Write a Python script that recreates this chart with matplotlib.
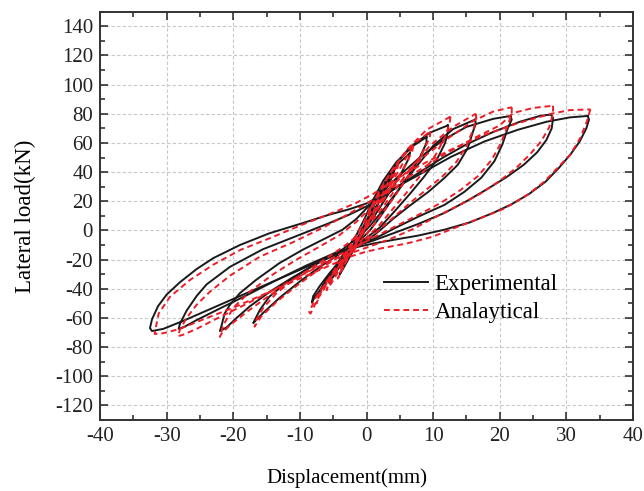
import matplotlib
matplotlib.use('Agg')
import matplotlib.pyplot as plt
from matplotlib.ticker import MultipleLocator

plt.rcParams['font.family'] = ['Liberation Serif', 'DejaVu Serif']
plt.rcParams['axes.unicode_minus'] = False

# experimental loops, small to large (displacement mm, load kN)
exp_x = [
    [4.2, 4.0, 3.0, 1.8, 0.5, -0.8, -2.0, -3.2, -4.0, -3.6, -2.5, -1.2, 0.0, 1.2, 2.3, 3.3, 4.2],
    [6.5, 6.3, 5.3, 4.0, 2.6, 1.2, -0.2, -1.6, -3.0, -4.3, -5.3, -5.6, -4.9, -3.8, -2.5, -1.2, 0.0, 1.3, 2.8, 4.6, 6.5],
    [9.0, 9.0, 8.0, 6.5, 5.0, 3.5, 2.0, 0.5, -1.0, -2.5, -4.0, -5.5, -6.5, -7.0, -6.6, -5.5, -4.3, -3.0, -1.5, -0.3, 1.0, 2.5, 4.5, 7.0, 9.0],
    [12.2, 12.3, 11.8, 10.5, 8.5, 6.5, 4.0, 2.0, 0.0, -1.5, -3.5, -5.5, -7.0, -8.0, -8.2, -7.8, -6.5, -5.0, -3.5, -2.0, -0.5, 0.5, 2.0, 4.0, 6.5, 9.5, 12.2],
    [16.3, 16.4, 16.0, 15.2, 13.7, 11.7, 9.3, 6.5, 4.0, 2.0, 0.5, -1.5, -4.0, -7.0, -10.0, -13.0, -15.5, -16.9, -17.0, -16.0, -14.6, -12.1, -9.1, -6.6, -3.6, -1.5, 0.5, 2.5, 4.5, 7.0, 10.0, 13.0, 16.3],
    [21.6, 21.8, 21.2, 20.4, 19.2, 17.2, 14.7, 11.7, 7.8, 4.0, 1.5, -1.0, -4.0, -7.5, -11.0, -14.5, -17.5, -19.5, -21.0, -22.0, -21.8, -21.3, -20.5, -19.0, -16.6, -13.1, -9.6, -6.6, -3.6, -1.5, 0.5, 2.5, 5.0, 8.0, 11.5, 15.0, 19.0, 21.6],
    [27.7, 28.0, 27.8, 27.0, 25.6, 23.6, 21.0, 18.0, 15.0, 11.7, 7.8, 4.0, 1.0, -1.5, -5.0, -9.0, -13.5, -18.0, -22.0, -25.5, -27.3, -28.2, -28.0, -27.0, -25.5, -24.0, -20.5, -15.6, -10.6, -5.6, -2.5, 0.0, 2.5, 5.0, 8.0, 11.5, 15.0, 19.0, 23.0, 26.0, 27.7],
    [33.2, 33.4, 33.0, 32.0, 30.6, 28.9, 26.9, 24.4, 21.8, 19.0, 15.5, 11.7, 7.8, 4.0, 1.0, -1.5, -5.0, -9.0, -14.0, -19.0, -23.5, -27.5, -30.5, -32.2, -32.5, -32.2, -31.3, -30.0, -28.0, -25.5, -23.0, -19.0, -14.6, -9.6, -5.6, -2.6, 0.0, 2.5, 5.0, 7.8, 12.7, 17.7, 22.7, 27.0, 30.5, 33.2],
]
exp_y = [
    [42.0, 38.0, 29.0, 19.0, 9.0, -1.0, -11.0, -21.0, -30.0, -27.0, -18.0, -8.0, 2.0, 13.0, 24.0, 34.0, 42.0],
    [53.0, 49.0, 40.0, 30.0, 20.0, 10.0, 1.0, -8.0, -17.0, -26.0, -33.0, -36.0, -31.0, -23.0, -14.0, -4.0, 7.0, 19.0, 32.0, 45.0, 53.0],
    [64.0, 60.0, 50.0, 39.0, 29.0, 19.0, 9.0, 0.0, -7.0, -14.0, -22.0, -31.0, -38.0, -42.0, -38.0, -30.0, -22.0, -13.0, -3.0, 8.0, 21.0, 34.0, 47.0, 58.0, 64.0],
    [72.0, 69.0, 60.0, 48.0, 36.0, 25.0, 12.0, 2.0, -5.0, -10.0, -19.0, -29.0, -38.0, -45.0, -49.5, -46.0, -38.0, -30.0, -22.0, -13.0, -2.0, 10.0, 27.0, 43.0, 57.0, 67.0, 72.0],
    [76.0, 73.0, 68.0, 56.5, 45.0, 36.0, 26.5, 17.0, 8.0, 0.0, -5.5, -10.0, -16.0, -25.0, -35.0, -46.0, -56.5, -63.0, -63.5, -54.5, -45.5, -36.0, -27.0, -20.0, -13.0, -6.0, 3.0, 14.0, 26.0, 41.0, 58.0, 69.5, 76.0],
    [78.5, 76.0, 70.0, 59.0, 47.5, 36.0, 26.5, 17.5, 9.5, 1.0, -5.0, -9.5, -15.0, -23.0, -32.0, -42.0, -52.0, -60.0, -66.5, -69.0, -66.0, -57.0, -51.0, -43.0, -34.0, -22.5, -13.3, -6.4, 0.5, 8.0, 17.5, 27.0, 38.0, 50.0, 62.0, 71.0, 76.5, 78.5],
    [79.5, 77.0, 70.0, 62.0, 53.5, 45.0, 36.5, 28.0, 20.0, 12.0, 4.5, -2.0, -7.0, -10.5, -16.0, -24.0, -34.0, -44.5, -53.5, -61.5, -66.0, -67.5, -64.0, -55.0, -45.0, -37.0, -25.0, -13.0, -4.0, 5.0, 11.0, 16.5, 23.0, 31.0, 40.0, 50.0, 59.0, 67.5, 74.5, 78.5, 79.5],
    [78.5, 76.0, 70.0, 61.0, 52.0, 43.0, 33.5, 25.0, 18.0, 12.0, 5.5, 0.5, -3.5, -6.5, -9.0, -11.5, -17.0, -25.0, -35.0, -45.0, -54.0, -62.0, -67.5, -69.0, -67.0, -61.0, -52.0, -44.0, -35.5, -26.5, -19.0, -10.0, -2.0, 5.0, 10.8, 14.5, 18.5, 24.5, 31.0, 38.0, 50.5, 61.0, 69.0, 74.5, 77.5, 78.5],
]

# analytical loops
ana_x = [
    [4.8, 4.6, 3.5, 2.2, 0.8, -0.6, -2.0, -3.3, -4.3, -4.0, -2.8, -1.4, 0.0, 1.3, 2.5, 3.7, 4.8],
    [7.0, 6.9, 6.0, 4.7, 3.3, 1.8, 0.2, -1.4, -3.0, -4.5, -5.6, -6.0, -5.1, -3.8, -2.3, -0.7, 0.9, 2.5, 4.1, 5.7, 7.0],
    [9.6, 9.5, 8.5, 7.0, 5.5, 4.0, 2.4, 0.8, -0.8, -2.4, -4.0, -5.5, -6.8, -7.5, -7.2, -6.1, -4.8, -3.4, -2.0, -0.6, 0.8, 2.4, 4.4, 7.0, 9.6],
    [12.6, 12.5, 11.8, 10.4, 8.5, 6.4, 4.0, 2.0, 0.0, -1.8, -4.0, -6.0, -7.6, -8.6, -8.4, -7.2, -5.8, -4.2, -2.6, -1.2, 0.0, 1.5, 3.5, 6.0, 9.0, 12.6],
    [16.4, 16.5, 16.0, 15.0, 13.5, 11.5, 9.0, 6.3, 3.8, 1.8, 0.0, -2.0, -4.5, -7.5, -10.5, -13.5, -15.8, -16.8, -16.5, -15.5, -13.5, -11.0, -8.0, -5.0, -2.5, 0.0, 2.0, 4.0, 6.5, 9.5, 13.0, 16.4],
    [21.8, 21.8, 21.2, 20.2, 18.8, 16.8, 14.2, 11.2, 7.5, 4.0, 1.0, -1.5, -4.5, -8.0, -11.5, -15.0, -18.0, -20.5, -21.8, -22.0, -21.5, -20.0, -17.5, -14.0, -10.5, -7.0, -4.0, -1.5, 0.5, 3.0, 6.0, 9.0, 12.5, 16.0, 19.0, 21.8],
    [28.0, 28.0, 27.4, 26.2, 24.5, 22.5, 20.0, 17.0, 14.0, 10.5, 7.0, 3.5, 0.5, -2.0, -5.5, -9.5, -14.0, -18.5, -22.5, -25.5, -27.5, -28.3, -28.0, -27.0, -25.5, -23.5, -20.5, -16.0, -11.0, -6.5, -3.0, -0.5, 2.0, 5.0, 8.5, 12.0, 16.0, 20.0, 22.0, 25.0, 28.0],
    [33.6, 33.4, 33.1, 32.1, 30.6, 28.7, 26.7, 24.2, 20.7, 17.7, 13.7, 9.8, 6.0, 2.5, 0.0, -2.5, -6.0, -10.0, -15.0, -20.0, -24.5, -28.0, -30.5, -31.8, -31.6, -31.2, -29.5, -26.5, -23.0, -19.0, -14.6, -9.6, -4.6, -1.5, 1.0, 4.0, 7.8, 12.7, 17.7, 22.7, 27.7, 30.5, 33.6],
]
ana_y = [
    [46.0, 42.0, 32.0, 21.0, 10.0, -1.0, -12.0, -23.0, -33.0, -29.0, -19.0, -8.0, 3.0, 15.0, 26.0, 37.0, 46.0],
    [58.0, 55.0, 46.0, 36.0, 26.0, 15.5, 5.0, -5.5, -16.0, -27.0, -36.0, -41.0, -35.0, -25.0, -14.0, -3.0, 9.0, 22.0, 35.0, 48.0, 58.0],
    [68.0, 64.0, 54.0, 43.0, 32.0, 22.0, 12.0, 2.0, -7.0, -15.0, -24.0, -33.0, -42.0, -50.0, -44.0, -36.0, -27.0, -17.0, -7.0, 4.0, 17.0, 31.0, 45.0, 59.0, 68.0],
    [78.0, 74.0, 64.0, 52.0, 40.0, 28.0, 15.0, 4.0, -5.0, -13.0, -24.0, -35.0, -46.0, -56.0, -57.0, -46.0, -36.0, -26.0, -16.0, -6.0, 6.0, 22.0, 39.0, 55.0, 69.0, 78.0],
    [80.0, 76.0, 69.0, 58.0, 47.0, 37.5, 28.0, 18.0, 8.0, 0.0, -7.0, -13.0, -19.0, -28.0, -38.0, -49.0, -59.0, -66.0, -61.0, -53.0, -43.0, -34.0, -25.0, -16.0, -8.0, 2.0, 13.0, 26.0, 42.0, 58.0, 71.0, 80.0],
    [84.5, 80.0, 72.0, 60.0, 48.5, 37.5, 28.0, 19.0, 10.0, 2.0, -5.0, -11.0, -17.5, -26.0, -35.5, -46.0, -56.0, -65.0, -71.0, -73.0, -65.0, -53.0, -42.0, -30.0, -20.0, -11.0, -3.0, 6.0, 15.0, 27.0, 40.0, 52.0, 64.0, 75.0, 81.5, 84.5],
    [85.5, 80.0, 70.5, 61.0, 52.0, 43.0, 34.0, 25.0, 17.5, 9.5, 1.0, -6.0, -11.0, -15.0, -21.0, -30.0, -41.0, -51.5, -60.5, -67.5, -71.5, -72.5, -68.0, -60.0, -51.0, -42.0, -31.0, -18.0, -8.0, 2.0, 10.5, 17.0, 24.0, 33.0, 43.0, 53.0, 63.0, 72.0, 80.5, 84.0, 85.5],
    [83.0, 80.0, 75.0, 63.5, 52.0, 43.0, 33.5, 24.5, 15.0, 9.5, 2.5, -4.5, -9.0, -12.0, -14.5, -18.0, -25.0, -33.0, -43.0, -53.0, -61.0, -67.5, -70.5, -71.0, -66.0, -57.0, -45.5, -34.0, -23.5, -13.5, -5.5, 4.0, 13.0, 19.0, 25.0, 34.0, 44.0, 55.5, 65.5, 73.5, 80.0, 82.5, 83.0],
]

fig = plt.figure(figsize=(6.44, 4.91), dpi=100)
ax = fig.add_axes([0.1553, 0.1446, 0.8276, 0.8316])

for i in range(len(exp_x)):
    ax.plot(exp_x[i], exp_y[i], color='#1a1a1a', lw=1.4,
            label='Experimental' if i == 0 else None, zorder=3)
for i in range(len(ana_x)):
    ax.plot(ana_x[i], ana_y[i], color='#ee1c25', lw=1.4, ls=(0, (3, 2)),
            label='Analaytical' if i == 0 else None, zorder=4)

ax.set_xlim(-40, 40)
ax.xaxis.set_major_locator(MultipleLocator(10))
ax.xaxis.set_minor_locator(MultipleLocator(5))
ax.yaxis.set_minor_locator(MultipleLocator(10))
ax.set_yticks(range(-120, 141, 20))
ax.set_ylim(-130, 150)

ax.grid(True, which='major', color='#c8c8c8', ls=(0, (3, 2)), lw=0.8, zorder=0)
ax.tick_params(which='both', direction='in', top=True, right=True,
               labelsize=15, colors='#222222', pad=5)
ax.tick_params(which='major', length=6, width=1.1)
ax.tick_params(which='minor', length=3.5, width=1.1)
for s in ax.spines.values():
    s.set_linewidth(1.4)
    s.set_color('#333333')

ax.set_xlabel('Displacement(mm)', fontsize=15)
ax.xaxis.set_label_coords(0.463, -0.118)
ax.set_ylabel('Lateral load(kN)', fontsize=16.5, labelpad=14)

ax.legend(loc='upper left', bbox_to_anchor=(0.503, 0.397), frameon=False,
          fontsize=16.5, handlelength=1.9, handletextpad=0.3,
          labelspacing=0.3, borderpad=0.2)

fig.savefig('out.png', dpi=100)
